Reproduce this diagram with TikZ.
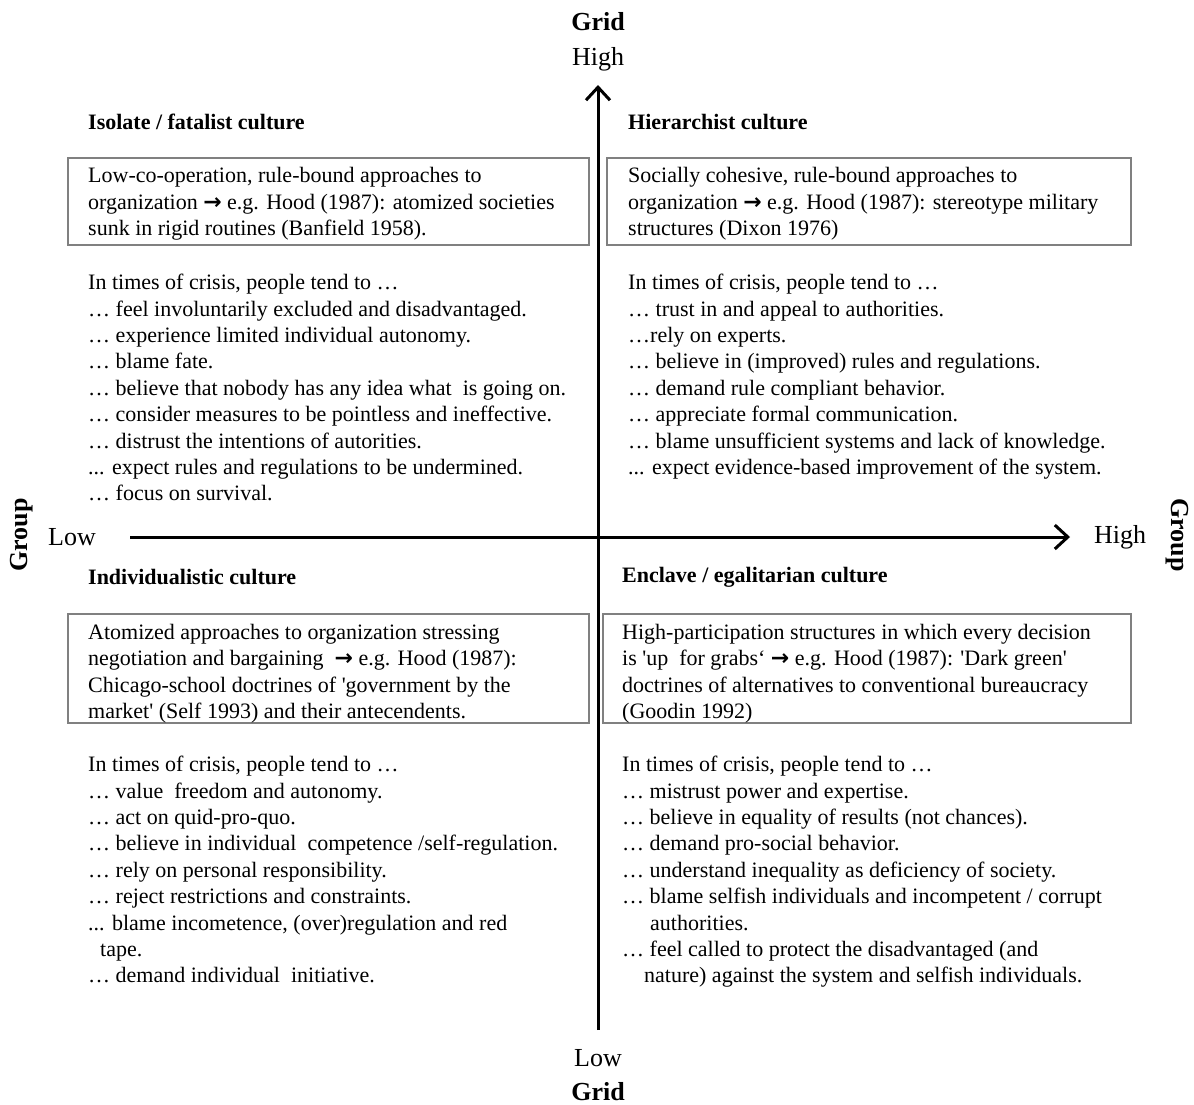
\documentclass[tikz,border=0pt]{standalone}
\usepackage{fontspec}
\setmainfont{Liberation Serif}
\newfontfamily\arrowfont{DejaVu Sans}
\usetikzlibrary{arrows.meta}
\definecolor{boxgray}{HTML}{808080}
\tikzset{
  body/.style={font=\fontsize{22}{26.4}\selectfont, align=left, inner sep=0pt},
  ttl/.style={font=\fontsize{22}{24}\selectfont\bfseries, inner sep=0pt, anchor=west},
  axl/.style={font=\fontsize{26}{30}\selectfont, inner sep=0pt},
  axb/.style={font=\fontsize{26}{30}\selectfont\bfseries, inner sep=0pt},
  qbox/.style={draw=boxgray, line width=2pt, inner sep=0pt, anchor=north west},
  axisline/.style={line width=3pt, -{Straight Barb[length=13pt,width=24pt,line width=3pt]}}
}
\newcommand{\rarr}{{\arrowfont\bfseries →}}
\begin{document}
\begin{tikzpicture}[x=1pt,y=-1pt]
\useasboundingbox (0,0) rectangle (1194,1104);
% axes
\coordinate (vbot) at (598,1030);
\coordinate (vtop) at (598,85);
\coordinate (hleft) at (130,537);
\coordinate (hright) at (1070,537);
\draw[axisline] (vbot) -- (vtop);
\draw[axisline] (hleft) -- (hright);
% axis labels
\node[axb] (gridtop) at (598,22) {Grid};
\node[axl] (hightop) at (598,59) {High};
\node[axl] (lowbot) at (598,1058) {Low};
\node[axb, anchor=base] (gridbot) at (598,1100) {Grid};
\node[axl] (lowleft) at (72,537) {Low};
\node[axl] (highright) at (1120,537) {High};
\node[axb, rotate=90] (groupleft) at (22,535) {Group};
\node[axb, rotate=-90] (groupright) at (1177,535) {Group};
% titles
\node[ttl] (tltitle) at (88,122) {Isolate / fatalist culture};
\node[ttl] (trtitle) at (628,122) {Hierarchist culture};
\node[ttl] (bltitle) at (88,577) {Individualistic culture};
\node[ttl] (brtitle) at (622,577) {Enclave / egalitarian culture};
% boxes
\node[qbox, minimum width=521pt, minimum height=87pt] (tlbox) at (67,157) {};
\node[body, anchor=west] (tlboxtext) at ([xshift=21pt,yshift=-2.5pt]tlbox.west) {Low-co-operation, rule-bound approaches to\\organization \rarr{} e.g. Hood (1987): atomized societies\\sunk in rigid routines (Banfield 1958).};
\node[qbox, minimum width=524pt, minimum height=87pt] (trbox) at (606,157) {};
\node[body, anchor=west] (trboxtext) at ([xshift=22pt,yshift=-2.5pt]trbox.west) {Socially cohesive, rule-bound approaches to\\organization \rarr{} e.g. Hood (1987): stereotype military\\structures (Dixon 1976)};
\node[qbox, minimum width=521pt, minimum height=109pt] (blbox) at (67,613) {};
\node[body, anchor=west] (blboxtext) at ([xshift=21pt,yshift=-5pt]blbox.west) {Atomized approaches to organization stressing\\negotiation and bargaining \ \rarr{} e.g. Hood (1987):\\Chicago-school doctrines of \textquotesingle government by the\\market\textquotesingle{} (Self 1993) and their antecendents.};
\node[qbox, minimum width=528pt, minimum height=109pt] (brbox) at (602,613) {};
\node[body, anchor=west] (brboxtext) at ([xshift=20pt,yshift=-5pt]brbox.west) {High-participation structures in which every decision\\is \textquotesingle up \ for grabs‘ \rarr{} e.g. Hood (1987): \textquotesingle Dark green\textquotesingle\\doctrines of alternatives to conventional bureaucracy\\(Goodin 1992)};
% lists
\node[body, anchor=north west] (tllist) at (88,274) {In times of crisis, people tend to …\\
… feel involuntarily excluded and disadvantaged.\\
… experience limited individual autonomy.\\
… blame fate.\\
… believe that nobody has any idea what \ is going on.\\
… consider measures to be pointless and ineffective.\\
… distrust the intentions of autorities.\\
... expect rules and regulations to be undermined.\\
… focus on survival.};
\node[body, anchor=north west] (trlist) at (628,274) {In times of crisis, people tend to …\\
… trust in and appeal to authorities.\\
…rely on experts.\\
… believe in (improved) rules and regulations.\\
… demand rule compliant behavior.\\
… appreciate formal communication.\\
… blame unsufficient systems and lack of knowledge.\\
... expect evidence-based improvement of the system.};
\node[body, anchor=north west] (bllist) at (88,756) {In times of crisis, people tend to …\\
… value \ freedom and autonomy.\\
… act on quid-pro-quo.\\
… believe in individual \ competence /self-regulation.\\
… rely on personal responsibility.\\
… reject restrictions and constraints.\\
... blame incometence, (over)regulation and red\\
\hspace*{12pt}tape.\\
… demand individual \ initiative.};
\node[body, anchor=north west] (brlist) at (622,756) {In times of crisis, people tend to …\\
… mistrust power and expertise.\\
… believe in equality of results (not chances).\\
… demand pro-social behavior.\\
… understand inequality as deficiency of society.\\
… blame selfish individuals and incompetent / corrupt\\
\hspace*{28pt}authorities.\\
… feel called to protect the disadvantaged (and\\
\hspace*{22pt}nature) against the system and selfish individuals.};
\end{tikzpicture}
\end{document}
